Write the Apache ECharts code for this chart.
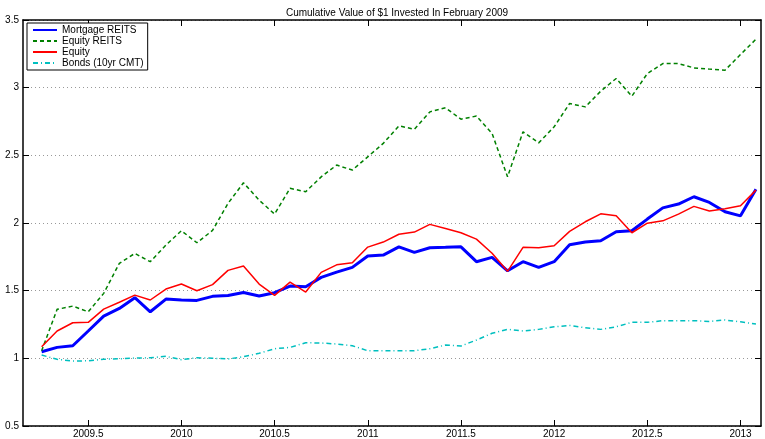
<!DOCTYPE html>
<html>
<head>
<meta charset="utf-8">
<script src="https://cdn.jsdelivr.net/npm/echarts@6/dist/echarts.min.js"></script>
<style>
  html, body { margin: 0; padding: 0; background: #fff; }
  #chart-container { width: 765px; height: 439px; }
</style>
</head>
<body>
<div id="chart-container"></div>
<script>
// month ends, as decimal years
const months = [
  2009.250, 2009.333, 2009.417, 2009.500, 2009.583, 2009.667, 2009.750, 2009.833, 2009.917,
  2010.000, 2010.083, 2010.167, 2010.250, 2010.333, 2010.417, 2010.500, 2010.583, 2010.667,
  2010.750, 2010.833, 2010.917, 2011.000, 2011.083, 2011.167, 2011.250, 2011.333, 2011.417,
  2011.500, 2011.583, 2011.667, 2011.750, 2011.833, 2011.917, 2012.000, 2012.083, 2012.167,
  2012.250, 2012.333, 2012.417, 2012.500, 2012.583, 2012.667, 2012.750, 2012.833, 2012.917,
  2013.000, 2013.083
];

const mortgageReits = [
  1.049, 1.081, 1.093, 1.202, 1.312, 1.369, 1.448, 1.344, 1.438, 1.431,
  1.428, 1.458, 1.465, 1.487, 1.460, 1.485, 1.534, 1.529, 1.598, 1.637,
  1.672, 1.756, 1.763, 1.824, 1.783, 1.817, 1.820, 1.824, 1.714, 1.746,
  1.647, 1.714, 1.672, 1.714, 1.840, 1.859, 1.869, 1.935, 1.943, 2.029,
  2.112, 2.140, 2.194, 2.152, 2.083, 2.053, 2.250
];
const equityReits = [
  1.056, 1.362, 1.386, 1.344, 1.480, 1.702, 1.775, 1.714, 1.837, 1.943,
  1.854, 1.945, 2.145, 2.297, 2.169, 2.066, 2.256, 2.231, 2.341, 2.428,
  2.391, 2.489, 2.588, 2.718, 2.693, 2.821, 2.851, 2.767, 2.790, 2.662,
  2.341, 2.674, 2.592, 2.711, 2.883, 2.858, 2.974, 3.068, 2.937, 3.104,
  3.178, 3.178, 3.146, 3.137, 3.129, 3.245, 3.358
];
const equity = [
  1.086, 1.202, 1.263, 1.266, 1.364, 1.414, 1.467, 1.431, 1.512, 1.549,
  1.499, 1.545, 1.650, 1.682, 1.549, 1.465, 1.563, 1.490, 1.635, 1.691,
  1.706, 1.822, 1.859, 1.917, 1.933, 1.990, 1.960, 1.928, 1.881, 1.776,
  1.643, 1.820, 1.817, 1.832, 1.938, 2.009, 2.068, 2.053, 1.928, 1.999,
  2.016, 2.066, 2.123, 2.088, 2.105, 2.127, 2.243
];
const bonds = [
  1.024, 0.993, 0.980, 0.982, 0.993, 0.997, 1.002, 1.004, 1.015, 0.990,
  1.004, 1.001, 0.995, 1.012, 1.037, 1.071, 1.081, 1.115, 1.113, 1.106,
  1.093, 1.056, 1.056, 1.056, 1.056, 1.071, 1.098, 1.091, 1.135, 1.185,
  1.214, 1.202, 1.214, 1.233, 1.243, 1.226, 1.214, 1.233, 1.266, 1.266,
  1.278, 1.278, 1.278, 1.273, 1.283, 1.270, 1.253
];

const xTicks = [2009.5, 2010, 2010.5, 2011, 2011.5, 2012, 2012.5, 2013];

function pairs(vals) {
  return vals.map(function (v, i) { return [months[i], v]; });
}

var dom = document.getElementById('chart-container');
var myChart = echarts.init(dom, null, { renderer: 'canvas' });

const font = 'Liberation Sans, Arial, sans-serif';
const axisLine = { show: true, onZero: false, lineStyle: { color: '#000', width: 1.5 } };
const tickStyle = { color: '#000', width: 1 };

var option = {
  animation: false,
  backgroundColor: '#fff',
  textStyle: { fontFamily: font },
  title: {
    text: 'Cumulative Value of $1 Invested In February 2009',
    left: 392,
    textAlign: 'center',
    top: 3,
    textStyle: { fontSize: 10, fontWeight: 'normal', color: '#000', fontFamily: font }
  },
  legend: {
    orient: 'vertical',
    left: 27,
    top: 23,
    padding: [2, 4, 2, 5],
    itemWidth: 24,
    itemHeight: 10,
    itemGap: 1,
    backgroundColor: '#fff',
    borderColor: '#000',
    borderWidth: 1,
    itemStyle: { opacity: 0 },
    textStyle: { fontSize: 10, color: '#000', fontFamily: font, lineHeight: 10 },
    data: ['Mortgage REITS', 'Equity REITS', 'Equity', 'Bonds (10yr CMT)']
  },
  grid: { left: 23, right: 4, top: 20, bottom: 13 },
  xAxis: [
    {
      type: 'value',
      position: 'bottom',
      min: 2009.15,
      max: 2013.11,
      axisLine: axisLine,
      axisTick: { show: true, inside: true, length: 6, customValues: xTicks, lineStyle: tickStyle },
      axisLabel: {
        customValues: xTicks,
        formatter: function (v) { return String(v); },
        margin: 3,
        fontSize: 10,
        color: '#000',
        fontFamily: font
      },
      splitLine: { show: false }
    },
    {
      type: 'value',
      position: 'top',
      min: 2009.15,
      max: 2013.11,
      axisLine: axisLine,
      axisTick: { show: true, inside: true, length: 6, customValues: xTicks, lineStyle: tickStyle },
      axisLabel: { show: false },
      splitLine: { show: false }
    }
  ],
  yAxis: [
    {
      type: 'value',
      position: 'left',
      min: 0.5,
      max: 3.5,
      interval: 0.5,
      axisLine: axisLine,
      axisTick: { show: true, inside: true, length: 6, lineStyle: tickStyle },
      axisLabel: { margin: 4, fontSize: 10, color: '#000', fontFamily: font },
      splitLine: { show: true, lineStyle: { type: [1, 3], color: '#999', width: 1 } }
    },
    {
      type: 'value',
      position: 'right',
      min: 0.5,
      max: 3.5,
      interval: 0.5,
      axisLine: axisLine,
      axisTick: { show: true, inside: true, length: 6, lineStyle: tickStyle },
      axisLabel: { show: false },
      splitLine: { show: false }
    }
  ],
  series: [
    {
      name: 'Mortgage REITS',
      type: 'line',
      symbol: 'none',
      lineStyle: { color: '#0000ff', width: 3 },
      itemStyle: { color: '#0000ff' },
      data: pairs(mortgageReits)
    },
    {
      name: 'Equity REITS',
      type: 'line',
      symbol: 'none',
      lineStyle: { color: '#008000', width: 1.5, type: [4, 3] },
      itemStyle: { color: '#008000' },
      data: pairs(equityReits)
    },
    {
      name: 'Equity',
      type: 'line',
      symbol: 'none',
      lineStyle: { color: '#ff0000', width: 1.5 },
      itemStyle: { color: '#ff0000' },
      data: pairs(equity)
    },
    {
      name: 'Bonds (10yr CMT)',
      type: 'line',
      symbol: 'none',
      lineStyle: { color: '#00bfbf', width: 1.5, type: [5, 3, 1, 3] },
      itemStyle: { color: '#00bfbf' },
      data: pairs(bonds)
    }
  ]
};

if (option && typeof option === 'object') {
  myChart.setOption(option);
}
</script>
</body>
</html>
